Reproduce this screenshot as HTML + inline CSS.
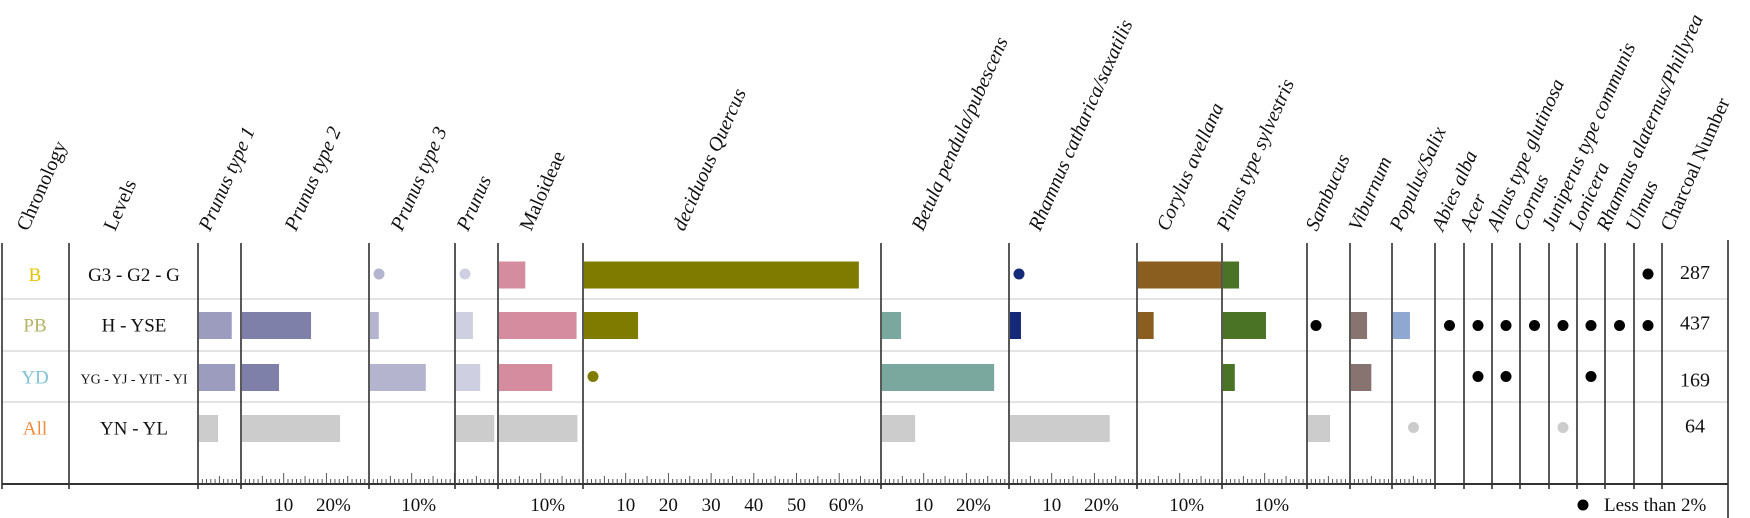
<!DOCTYPE html>
<html><head><meta charset="utf-8"><style>
html,body{margin:0;padding:0;background:#fff;}
svg{display:block;font-family:"Liberation Serif",serif;}
</style></head><body>
<svg id="chart" width="1750" height="518" viewBox="0 0 1750 518" xmlns="http://www.w3.org/2000/svg"></svg>
<script>
// ---- data ----
const rowsChron = ["B","PB","YD","All"];
const rowsLevels = ["G3 - G2 - G","H - YSE","YG - YJ - YIT - YI","YN - YL"];
const charcoalNumbers = ["287","437","169","64"];
const taxa = ["Prunus type 1","Prunus type 2","Prunus type 3","Prunus","Maloideae","deciduous Quercus","Betula pendula/pubescens","Rhamnus catharica/saxatilis","Corylus avellana","Pinus type sylvestris","Sambucus","Viburnum","Populus/Salix","Abies alba","Acer","Alnus type glutinosa","Cornus","Juniperus type communis","Lonicera","Rhamnus alaternus/Phillyrea","Ulmus"];
// values in % per row [B, PB, YD, All]; -1 = less than 2% (dot); 0 = absent
const vP1 = [0, 7.9, 8.7, 4.7];
const vP2 = [0, 16.4, 8.9, 23.2];
const vP3 = [-1, 2.3, 13.3, 0];
const vPrunus = [-1, 4.2, 5.9, 9.2];
const vMal = [6.4, 18.4, 12.7, 18.6];
const vQuercus = [64.6, 12.9, -1, 0];
const vBetula = [0, 4.7, 26.5, 8];
const vRhamnus = [-1, 2.8, 0, 23.6];
const vCorylus = [19.7, 3.9, 0, 0];
const vPinus = [4, 10.3, 3, 0];
const vSambucus = [0, -1, 0, 5.4];
const vViburnum = [0, 4, 5, 0];
const vPopulus = [0, 4.2, 0, -1];
const vAbies = [0, -1, 0, 0];
const vAcer = [0, -1, -1, 0];
const vAlnus = [0, -1, -1, 0];
const vCornus = [0, -1, 0, 0];
const vJuniperus = [0, -1, 0, -1];
const vLonicera = [0, -1, -1, 0];
const vRhamnus2 = [0, -1, 0, 0];
const vUlmus = [-1, -1, 0, 0];
const taxonValues = [vP1,vP2,vP3,vPrunus,vMal,vQuercus,vBetula,vRhamnus,vCorylus,vPinus,vSambucus,vViburnum,vPopulus,vAbies,vAcer,vAlnus,vCornus,vJuniperus,vLonicera,vRhamnus2,vUlmus];
const tickLabelValues = [[],[10,20],[10],[],[10],[10,20,30,40,50,60],[10,20],[10,20],[10],[10],[],[],[]];

// ---- layout ----
const colX = [198,241,369,455,498,583,881,1009,1137,1222,1307,1350,1392,1435,1464,1492,1520,1549,1577,1605,1634,1662];
const labelX = [210,296,402,468,531,684,923,1040,1168,1228,1317,1360,1401,1443,1471,1498,1525,1553,1580,1608,1637];
const colors = ["#9c9cbe","#7f80a9","#b4b4cf","#cfcfe2","#d68c9f","#7f7a00","#7aa89e","#142a78","#8a5e1e","#4a7325","#000","#87736f","#8ea8d2"];
const rowC = [275,325.5,377.5,428.5];
const rowLines = [299,351,402];
const TOP = 243, AXIS = 484, LEFT = 2, RIGHT = 1728;
const PX = 4.27;
const NS = "http://www.w3.org/2000/svg";
const svg = document.getElementById('chart');
function el(tag, attrs, parent){const e=document.createElementNS(NS,tag);for(const k in attrs)e.setAttribute(k,attrs[k]);(parent||svg).appendChild(e);return e;}
function xs(c, v){return colX[c] + v*PX;}

rowLines.forEach(y=>{
  const l = el('line',{x1:LEFT,x2:RIGHT,y1:y,y2:y,stroke:'#dcdcdc','stroke-width':1.5});
  
  
});
[LEFT,69].concat(colX).forEach((x,i)=>{
  const l = el('line',{x1:x,x2:x,y1:TOP,y2:AXIS+5,stroke:'#222','stroke-width':1.5});
  
  
});
const rl = el('line',{x1:RIGHT,x2:RIGHT,y1:240,y2:518,stroke:'#222','stroke-width':1.5});


const ax = el('line',{x1:LEFT,x2:RIGHT,y1:AXIS,y2:AXIS,stroke:'#333','stroke-width':2});


for(let c=0;c<13;c++){
  const w = colX[c+1]-colX[c];
  const n = Math.floor(w/PX);
  for(let k=1;k<=n;k++){
    const x = xs(c,k);
    if(x>=colX[c+1]-0.5) break;
    const len = k%10===0?11:(k%5===0?8:5);
    const t = el('line',{x1:x,x2:x,y1:AXIS-len,y2:AXIS,stroke:'#444','stroke-width':0.9});
    
    
  }
  (tickLabelValues[c]||[]).forEach((v,i,arr)=>{
    const last = i===arr.length-1;
    const t = el('text',{x:xs(c,v)+(last?7:0),y:511,'text-anchor':'middle','font-size':19,fill:'#111'});
    t.textContent = v + (last?'%':'');
    
    
  });
}
function header(text,x,italic,name){
  const t = el('text',{x:x,y:232,'font-size':20,fill:'#111','font-style':italic?'italic':'normal',transform:`rotate(-66 ${x} 232)`});
  t.textContent = text;
  
  
}
header('Chronology',28,false,'chronology-header');
header('Levels',115,false,'levels-header');
taxa.forEach((tx,i)=>{
  const it = !(tx==='Maloideae');
  header(tx,labelX[i],it,'taxon-header');
});
header('Charcoal Number',1672,false,'charcoal-number-header');
const chronColors = ["#e2c400","#b3b365","#7fc3d4","#f08a3c"];
rowsChron.forEach((r,i)=>{
  const t = el('text',{x:35,y:rowC[i]+6,'text-anchor':'middle','font-size':19,fill:chronColors[i]});
  t.textContent = r;
  
  
});
rowsLevels.forEach((r,i)=>{
  const t = el('text',{x:134,y:rowC[i]+6,'text-anchor':'middle','font-size':i===2?14:19,fill:'#111'});
  t.textContent = r;
  
  
});
charcoalNumbers.forEach((r,i)=>{
  const t = el('text',{x:1695,y:rowC[i]+(i===2?9:4),'text-anchor':'middle','font-size':20,fill:'#111'});
  t.textContent = r;
  
  
});
taxonValues.forEach((vals,c)=>{
  vals.forEach((v,r)=>{
    if(v===0) return;
    const col = r===3 ? '#cccccc' : (c<13 ? colors[c] : '#000');
    if(v<0){
      let cx = (c<10) ? colX[c]+10 : (colX[c]+colX[c+1])/2;
      if(c===10) cx = colX[c]+9;
      let dc = col;
      if(r<3 && c>=10) dc = '#000';
      const d = el('ellipse',{cx:cx,cy:rowC[r]-(r===1?0:1),rx:5.5,ry:5.5,fill:dc});
      
      
    } else {
      const b = el('rect',{x:colX[c]+1,y:rowC[r]-13.5,width:Math.max(0,xs(c,v)-colX[c]-1),height:27,fill:col});
      
      
    }
  });
});
const ld = el('circle',{cx:1583,cy:505,r:5.5,fill:'#000'});


const lt = el('text',{x:1604,y:511,'font-size':19,fill:'#111'});
lt.textContent = 'Less than 2%';


</script>
</body></html>
